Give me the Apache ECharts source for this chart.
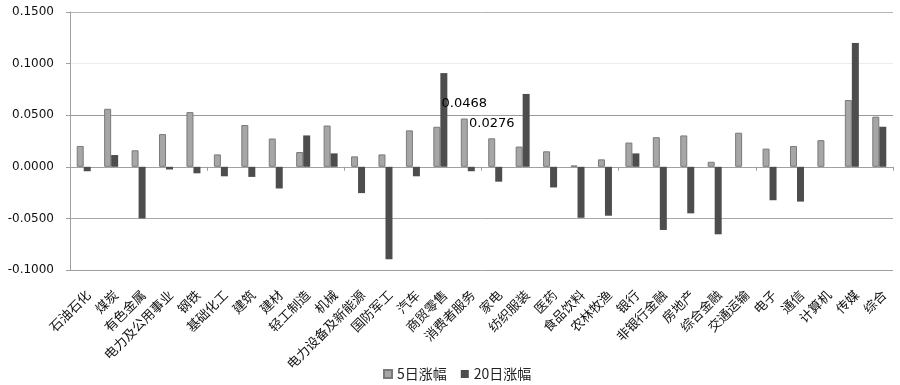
<!DOCTYPE html>
<html><head><meta charset="utf-8">
<script src="https://cdn.jsdelivr.net/npm/echarts@6/dist/echarts.min.js"></script>
<style>html,body{margin:0;padding:0;background:#fff}#c{width:900px;height:385px}</style>
</head><body><div id="c"></div>
<script>
const categories = ['石油石化','煤炭','有色金属','电力及公用事业','钢铁','基础化工','建筑','建材','轻工制造','机械','电力设备及新能源','国防军工','汽车','商贸零售','消费者服务','家电','纺织服装','医药','食品饮料','农林牧渔','银行','非银行金融','房地产','综合金融','交通运输','电子','通信','计算机','传媒','综合'];
const fiveDay = [0.0202,0.0562,0.0160,0.0317,0.0530,0.0120,0.0405,0.0274,0.0143,0.0400,0.0101,0.0120,0.0353,0.0388,0.0468,0.0276,0.0196,0.0150,0.0013,0.0072,0.0235,0.0287,0.0304,0.0049,0.0330,0.0176,0.0202,0.0258,0.0647,0.0486];
const twentyDay = [-0.0043,0.0114,-0.0500,-0.0026,-0.0063,-0.0092,-0.0098,-0.0210,0.0304,0.0130,-0.0255,-0.0896,-0.0092,0.0908,-0.0043,-0.0144,0.0706,-0.0200,-0.0494,-0.0474,0.0130,-0.0612,-0.0451,-0.0654,0,-0.0324,-0.0337,0,0.1200,0.0388];
const labeledFive = [14, 15];
const seriesNames = ['5日涨幅','20日涨幅'];

const chart = echarts.init(document.getElementById('c'));
const fiveData = fiveDay.map((v,i)=> labeledFive.includes(i)
  ? {value:v, label:{show:true, position:'top', distance:8, color:'#000', fontSize:13, fontFamily:'DejaVu Sans', formatter:p=>p.value.toFixed(4)}}
  : v);
chart.setOption({
  animation:false,
  grid:{left:70, right:7, top:12, bottom:115, containLabel:false},
  legend:{left:378, top:362, itemWidth:8, itemHeight:8, itemGap:14, icon:'rect',
    textStyle:{fontFamily:'Noto Sans CJK SC', fontSize:14, color:'#222'}, data:seriesNames},
  xAxis:[
    {type:'category', data:categories, axisLine:{onZero:true, lineStyle:{color:'#a0a0a0'}},
     axisTick:{show:true, length:4, lineStyle:{color:'#a0a0a0'}}, axisLabel:{show:false}},
    {type:'category', data:categories, position:'bottom', axisLine:{show:false}, axisTick:{show:false},
     axisLabel:{rotate:45, margin:18, interval:0, verticalAlign:'top', fontFamily:'Noto Sans CJK SC', fontSize:13, color:'#111'}}
  ],
  yAxis:{type:'value', min:-0.1, max:0.15, interval:0.05,
    axisLine:{show:true, lineStyle:{color:'#a0a0a0'}},
    axisTick:{show:true, length:4, lineStyle:{color:'#a0a0a0'}},
    axisLabel:{margin:16, fontFamily:'DejaVu Sans', fontSize:12, color:'#111', formatter:v=>v.toFixed(4)},
    splitLine:{show:true, lineStyle:{color:['#a0a0a0','#a8a8a8','#a0a0a0','#999999','#ececec','#b4b4b4']}}},
  series:[
    {name:seriesNames[0], type:'bar', xAxisIndex:0, barWidth:7, barGap:'0%', data:fiveData,
     itemStyle:{color:'#a6a6a6', borderColor:'#7a7a7a', borderWidth:1}},
    {name:seriesNames[1], type:'bar', xAxisIndex:0, barWidth:7, barGap:'0%', data:twentyDay,
     itemStyle:{color:'#4d4d4d'}}
  ]
});
</script></body></html>
